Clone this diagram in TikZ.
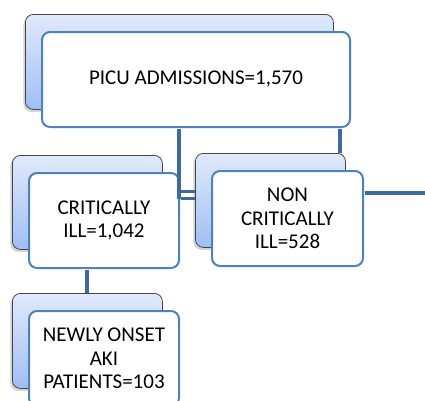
\documentclass[tikz,border=0pt]{standalone}
\usepackage{fontspec}
\setmainfont{Carlito}
\usetikzlibrary{shadows,calc}
\definecolor{boxblue}{RGB}{79,129,189}
\definecolor{connblue}{RGB}{62,106,160}
\definecolor{backtop}{RGB}{224,233,250}
\definecolor{backbot}{RGB}{160,190,244}
\definecolor{backedge}{RGB}{70,70,70}
\begin{document}
\begin{tikzpicture}[x=1pt,y=-1pt,
  backbox/.style={draw=backedge, line width=0.8pt, rounded corners=8pt,
    top color=backtop, bottom color=backbot, anchor=north west, inner sep=0pt,
    drop shadow={shadow xshift=-2pt, shadow yshift=-2.5pt, opacity=0.35}},
  frontbox/.style={draw=boxblue, line width=2pt, rounded corners=8pt, fill=white,
    anchor=north west, inner sep=0pt, align=center,
    font=\fontsize{21}{23.5}\selectfont},
  conn/.style={draw=connblue, line width=4pt}]
\useasboundingbox (0,0) rectangle (425,400);
% back boxes
\node[backbox, minimum width=308pt, minimum height=95pt] (topb) at (25,14) {};
\node[backbox, minimum width=150pt, minimum height=94pt] (critb) at (12,155) {};
\node[backbox, minimum width=150pt, minimum height=94pt] (nonb) at (195,153) {};
\node[backbox, minimum width=150pt, minimum height=95pt] (akib) at (12,293) {};
% connectors
\coordinate (j1) at (179,191.5);
\coordinate (j2) at (179,198.5);
\coordinate (j3) at (340,0);
\coordinate (j4) at (425,192.5);
\coordinate (j5) at (87,0);
% front boxes
\node[frontbox, minimum width=308pt, minimum height=95pt] (topf) at (41,31) {PICU ADMISSIONS=1,570};
\node[frontbox, minimum width=150pt, minimum height=95pt] (critf) at (28,172) {CRITICALLY\\ILL=1,042};
\node[frontbox, minimum width=151pt, minimum height=95pt] (nonf) at (211,170) {NON\\CRITICALLY\\ILL=528};
\node[frontbox, minimum width=150pt, minimum height=95pt] (akif) at (28,310) {NEWLY ONSET\\AKI\\PATIENTS=103};
\draw[conn] ([yshift=-1pt]topf.south -| j1) -- (j2);
\draw[conn, line width=3.5pt] ([xshift=1pt]critf.east |- j1) -- (nonb.west |- j1);
\draw[conn, line width=3.5pt] ([xshift=1pt]critf.east |- j2) -- (nonb.west |- j2);
\draw[conn] ([yshift=-1pt]topf.south -| j3) -- (nonb.north -| j3);
\draw[conn] ([xshift=1pt]nonf.east |- j4) -- (j4);
\draw[conn] ([yshift=-1pt]critf.south -| j5) -- (akib.north -| j5);
\end{tikzpicture}
\end{document}
